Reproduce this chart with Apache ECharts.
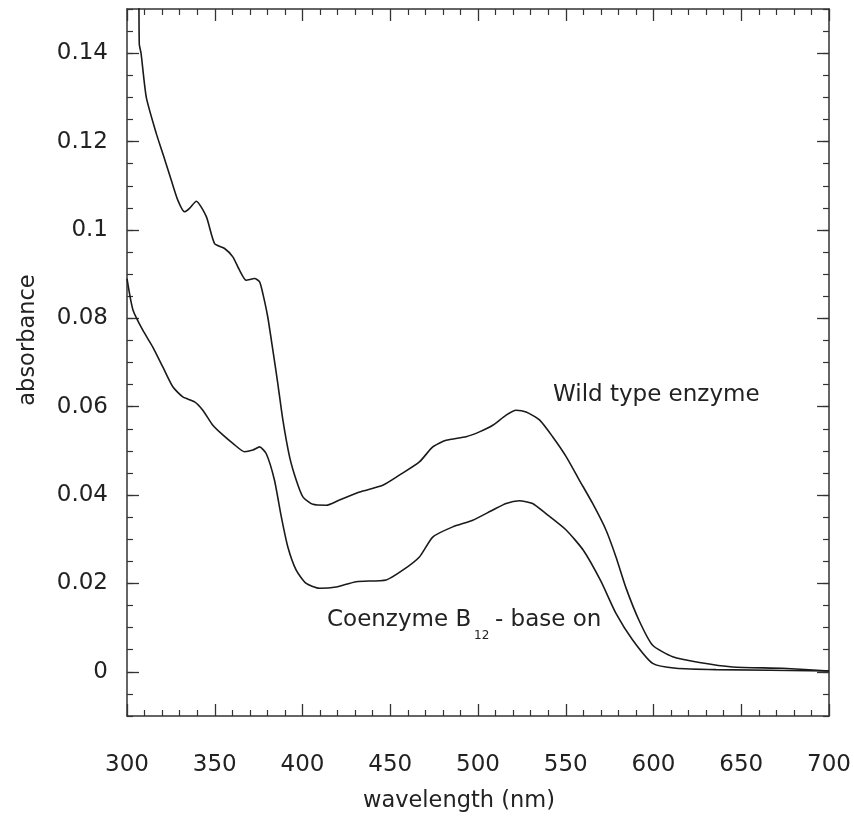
<!DOCTYPE html>
<html>
<head>
<meta charset="utf-8">
<script src="https://cdn.jsdelivr.net/npm/echarts@6.0.0/dist/echarts.min.js"></script>
<style>
  html, body { margin: 0; background: #fff; }
  #chart { width: 854px; height: 818px; }
</style>
</head>
<body>
<div id="chart"></div>
<script>
// wild type enzyme spectrum
const wildNm = [300, 306.5, 307, 308, 311, 316.7, 320.4, 325.2, 329, 332.8, 335.6, 339.5, 345.2, 349.9, 355.6,
  360.3, 364.1, 367.9, 372.7, 375.5, 377.4, 380.2, 383.1, 385.9, 388.8, 392.6, 396.4, 400.2, 405.9, 413.5,
  421.1, 432.5, 445.7, 455.2, 466.6, 474.2, 481.8, 493.2, 500.8, 508.4, 516, 521.7, 527.4, 535, 542.5,
  550.2, 557.7, 565.3, 572.9, 578.6, 584.3, 591.9, 599.5, 610.9, 626.1, 645, 673.5, 700];
const wildAbs = [0.2, 0.16, 0.142, 0.140, 0.130, 0.1218, 0.1173, 0.1113, 0.1067, 0.1041, 0.1049, 0.1065, 0.1030, 0.0969, 0.0958,
  0.0939, 0.0909, 0.0886, 0.0890, 0.0883, 0.0856, 0.0803, 0.0728, 0.0653, 0.0570, 0.0487, 0.0434, 0.0396, 0.0379, 0.0377,
  0.0389, 0.0407, 0.0422, 0.0445, 0.0475, 0.0509, 0.0524, 0.0532, 0.0543, 0.0558, 0.0581, 0.0592, 0.0588, 0.0570, 0.0532,
  0.0487, 0.0434, 0.0381, 0.0321, 0.0260, 0.0190, 0.0115, 0.0060, 0.0034, 0.0021, 0.0011, 0.0008, 0.0002];

// coenzyme B12 - base on spectrum
const coNm = [300, 303.4, 309, 314.7, 320.4, 326.1, 331.8, 338.5, 343.2, 348.9, 354.6, 360.3, 367, 371.7, 375.5,
  379.3, 384, 387.9, 391.6, 396.4, 402.1, 409.7, 419.2, 430.6, 447.7, 457.1, 466.6, 474.2, 485.6, 497,
  508.4, 516, 523.5, 531.1, 538.7, 550.2, 560, 570, 578.6, 588.1, 599.5, 612.8, 635.6, 700];
const coAbs = [0.089, 0.0819, 0.0773, 0.0735, 0.069, 0.0645, 0.0622, 0.0611, 0.0592, 0.0558, 0.0536, 0.0517, 0.0498, 0.0502, 0.0509,
  0.0494, 0.0434, 0.0351, 0.0283, 0.023, 0.02, 0.0189, 0.0192, 0.0204, 0.0208, 0.023, 0.026, 0.0305, 0.0328, 0.0343,
  0.0366, 0.0381, 0.0387, 0.0381, 0.0358, 0.0321, 0.0275, 0.0205, 0.0132, 0.0072, 0.0019, 0.0008, 0.0005, 0.0002];

// labelled ticks on the absorbance axis
const yTicks = [0, 0.02, 0.04, 0.06, 0.08, 0.1, 0.12, 0.14];

const FONT = '"DejaVu Sans", sans-serif';
const INK = '#222';
const AXIS = '#333';

function zip(xs, ys) {
  return xs.map((x, i) => [x, ys[i]]);
}
function isMajor(v) {
  return yTicks.some(t => Math.abs(t - v) < 1e-9);
}

const chart = echarts.init(document.getElementById('chart'), null, { renderer: 'canvas' });

// x axis, bottom with labels, top as frame
function xAxisOf(pos, labels) {
  return {
    type: 'value',
    position: pos,
    min: 300,
    max: 700,
    interval: 50,
    axisLine: { show: true, onZero: false, lineStyle: { color: AXIS, width: 1.5 } },
    axisTick: { show: true, inside: true, length: 12, lineStyle: { color: AXIS, width: 1.3 } },
    minorTick: { show: true, splitNumber: 5, length: 6, lineStyle: { color: AXIS, width: 1.2 } },
    axisLabel: { show: labels, margin: 38, fontSize: 23, fontFamily: FONT, color: INK },
    splitLine: { show: false },
    minorSplitLine: { show: false }
  };
}
// y axis: every 0.005 short tick, labels only on yTicks
function yMinor(pos, labels) {
  return {
    type: 'value',
    position: pos,
    min: -0.01,
    max: 0.15,
    interval: 0.005,
    axisLine: { show: true, onZero: false, lineStyle: { color: AXIS, width: 1.5 } },
    axisTick: { show: true, inside: true, length: 6, lineStyle: { color: AXIS, width: 1.2 } },
    axisLabel: {
      show: labels,
      margin: 19,
      fontSize: 23,
      fontFamily: FONT,
      color: INK,
      formatter: v => (isMajor(v) ? String(parseFloat(v.toFixed(3))) : '')
    },
    splitLine: { show: false }
  };
}
// y axis: long ticks at the labelled values
function yMajor(pos) {
  return {
    type: 'value',
    position: pos,
    min: -0.01,
    max: 0.15,
    interval: 0.01,
    axisLine: { show: false },
    axisTick: { show: true, inside: true, length: 12, customValues: yTicks, lineStyle: { color: AXIS, width: 1.3 } },
    axisLabel: { show: false },
    splitLine: { show: false }
  };
}

const option = {
  backgroundColor: '#fff',
  animation: false,
  grid: { left: 127, right: 24, top: 9, bottom: 102, containLabel: false },
  xAxis: [xAxisOf('bottom', true), xAxisOf('top', false)],
  yAxis: [yMinor('left', true), yMajor('left'), yMinor('right', false), yMajor('right')],
  series: [
    {
      name: 'Wild type enzyme',
      type: 'line',
      data: zip(wildNm, wildAbs),
      xAxisIndex: 0,
      yAxisIndex: 0,
      showSymbol: false,
      smooth: 0.2,
      clip: true,
      lineStyle: { color: '#1a1a1a', width: 1.6 }
    },
    {
      name: 'Coenzyme B12- base on',
      type: 'line',
      data: zip(coNm, coAbs),
      xAxisIndex: 0,
      yAxisIndex: 0,
      showSymbol: false,
      smooth: 0.2,
      clip: true,
      lineStyle: { color: '#1a1a1a', width: 1.6 }
    }
  ],
  graphic: [
    {
      type: 'text', x: 553, y: 395,
      style: { text: 'Wild type enzyme', font: '23px ' + FONT, fill: INK, align: 'left', verticalAlign: 'middle' }
    },
    {
      type: 'text', x: 327, y: 620,
      style: { text: 'Coenzyme B', font: '23px ' + FONT, fill: INK, align: 'left', verticalAlign: 'middle' }
    },
    {
      type: 'text', x: 474, y: 636,
      style: { text: '12', font: '12px ' + FONT, fill: INK, align: 'left', verticalAlign: 'middle' }
    },
    {
      type: 'text', x: 495, y: 620,
      style: { text: '- base on', font: '23px ' + FONT, fill: INK, align: 'left', verticalAlign: 'middle' }
    },
    // axis names
    {
      type: 'text', x: 459, y: 801,
      style: { text: 'wavelength (nm)', font: '22.5px ' + FONT, fill: INK, align: 'center', verticalAlign: 'middle' }
    },
    {
      type: 'text', x: 28, y: 340, rotation: Math.PI / 2,
      style: { text: 'absorbance', font: '22.5px ' + FONT, fill: INK, align: 'center', verticalAlign: 'middle' }
    }
  ]
};

chart.setOption(option);
</script>
</body>
</html>
